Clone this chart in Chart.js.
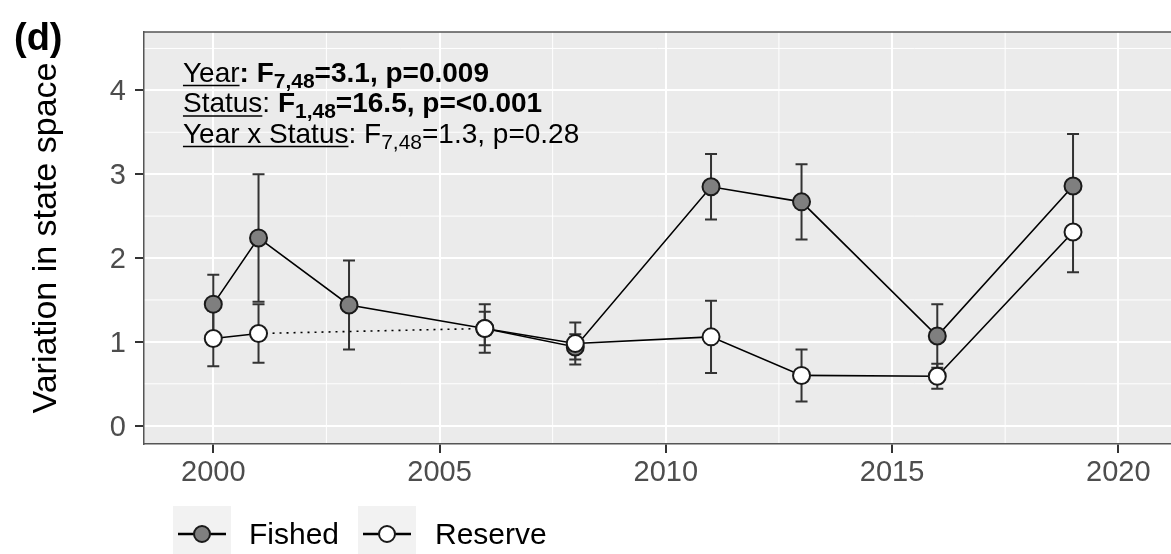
<!DOCTYPE html>
<html>
<head>
<meta charset="utf-8">
<script src="https://cdn.jsdelivr.net/npm/chart.js@4.4.0/dist/chart.umd.min.js"></script>
<style>
  html, body { margin: 0; padding: 0; background: #ffffff; }
  canvas { display: block; }
</style>
</head>
<body>
<canvas id="chart" width="1171" height="554"></canvas>
<script>
// Survey years and per-status mean variation in state space (± error)
const years = [2000, 2001, 2003, 2006, 2008, 2011, 2013, 2016, 2019];
const fishedMean = [1.45, 2.24, 1.44, 1.16, 0.94, 2.85, 2.67, 1.07, 2.86];
const fishedErr  = [0.35, 0.76, 0.53, 0.20, 0.15, 0.39, 0.45, 0.38, 0.62];
const reserveMean = [1.04, 1.10, null, 1.16, 0.98, 1.06, 0.60, 0.59, 2.31];
const reserveErr  = [0.33, 0.35, null, 0.29, 0.25, 0.43, 0.31, 0.15, 0.48];

const seriesNames = ['Fished', 'Reserve'];
const xTicks = [2000, 2005, 2010, 2015, 2020];
const yTicks = [0, 1, 2, 3, 4];
const xMinor = [2002.5, 2007.5, 2012.5, 2017.5];
const yMinor = [0.5, 1.5, 2.5, 3.5, 4.5];
const panelTag = '(d)';
const yTitle = 'Variation in state space';

// ANOVA summary lines (u = underlined, b = bold, sub = subscript)
const statsLines = [
  [{t: 'Year', u: true}, {t: ': F', b: true}, {t: '7,48', b: true, sub: true}, {t: '=3.1, p=0.009', b: true}],
  [{t: 'Status', u: true}, {t: ': '}, {t: 'F', b: true}, {t: '1,48', b: true, sub: true}, {t: '=16.5, p=<0.001', b: true}],
  [{t: 'Year x Status', u: true}, {t: ': F'}, {t: '7,48', sub: true}, {t: '=1.3, p=0.28'}]
];

const FONT = '"Liberation Sans", Arial, Helvetica, sans-serif';
const PANEL_BG = '#ebebeb';
const AXIS_COL = '#4d4d4d';

function toPoints(means) {
  return years.map((y, i) => ({x: y, y: means[i]}));
}

// Segments that bridge a missing survey year are drawn dotted
function dottedAcrossGap(means) {
  return ctx => (means[ctx.p0DataIndex] === null) ? [2, 5] : undefined;
}

// Panel background + minor grid, drawn beneath the library's major grid
const panelPlugin = {
  id: 'panel',
  beforeDraw(chart) {
    const {ctx, chartArea: a, scales: {x, y}} = chart;
    ctx.save();
    ctx.fillStyle = PANEL_BG;
    ctx.fillRect(a.left, a.top, a.right - a.left, a.bottom - a.top);
    ctx.beginPath();
    ctx.rect(a.left, a.top, a.right - a.left, a.bottom - a.top);
    ctx.clip();
    ctx.strokeStyle = '#ffffff';
    ctx.lineWidth = 1;
    yMinor.forEach(v => {
      const p = y.getPixelForValue(v);
      ctx.beginPath(); ctx.moveTo(a.left, p); ctx.lineTo(a.right, p); ctx.stroke();
    });
    xMinor.forEach(v => {
      const p = x.getPixelForValue(v);
      ctx.beginPath(); ctx.moveTo(p, a.top); ctx.lineTo(p, a.bottom); ctx.stroke();
    });
    ctx.restore();
  },
  afterDraw(chart) {
    const {ctx, chartArea: a} = chart;
    // top edge of the panel frame
    ctx.save();
    ctx.strokeStyle = '#555555';
    ctx.lineWidth = 1.5;
    ctx.beginPath(); ctx.moveTo(a.left, a.top); ctx.lineTo(a.right, a.top); ctx.stroke();
    // panel tag
    ctx.fillStyle = '#000000';
    ctx.font = 'bold 38px ' + FONT;
    ctx.textBaseline = 'alphabetic';
    ctx.textAlign = 'left';
    ctx.fillText(panelTag, 14, 50);
    ctx.restore();
  }
};

// Vertical error bars with caps
const errorBarPlugin = {
  id: 'errorBars',
  beforeDatasetsDraw(chart) {
    const {ctx, chartArea: a, scales: {x, y}} = chart;
    ctx.save();
    ctx.beginPath();
    ctx.rect(a.left, a.top, a.right - a.left, a.bottom - a.top);
    ctx.clip();
    ctx.strokeStyle = '#333333';
    ctx.lineWidth = 2;
    chart.data.datasets.forEach(ds => {
      ds.data.forEach((pt, i) => {
        const e = ds.errors[i];
        if (pt.y === null || e === null) return;
        const px = x.getPixelForValue(pt.x);
        const hi = y.getPixelForValue(pt.y + e);
        const lo = y.getPixelForValue(pt.y - e);
        const cap = 6;
        ctx.beginPath();
        ctx.moveTo(px, hi); ctx.lineTo(px, lo);
        ctx.moveTo(px - cap, hi); ctx.lineTo(px + cap, hi);
        ctx.moveTo(px - cap, lo); ctx.lineTo(px + cap, lo);
        ctx.stroke();
      });
    });
    ctx.restore();
  }
};

// Statistics annotation, anchored in data coordinates
const statsPlugin = {
  id: 'stats',
  afterDatasetsDraw(chart) {
    const {ctx, scales: {x, y}} = chart;
    const x0 = x.getPixelForValue(1999.33);
    const base0 = y.getPixelForValue(4.10);
    const lineGap = 30.5;
    const size = 28, subSize = 21, subDrop = 6;
    ctx.save();
    ctx.fillStyle = '#000000';
    ctx.strokeStyle = '#000000';
    ctx.textBaseline = 'alphabetic';
    ctx.textAlign = 'left';
    statsLines.forEach((segs, li) => {
      let cx = x0;
      const base = base0 + li * lineGap;
      segs.forEach(s => {
        const fs = s.sub ? subSize : size;
        ctx.font = (s.b ? 'bold ' : '') + fs + 'px ' + FONT;
        const yy = s.sub ? base + subDrop : base;
        ctx.fillText(s.t, cx, yy);
        const w = ctx.measureText(s.t).width;
        if (s.u) {
          ctx.lineWidth = 1.6;
          ctx.beginPath();
          ctx.moveTo(cx, base + 3.5); ctx.lineTo(cx + w, base + 3.5);
          ctx.stroke();
        }
        cx += w;
      });
    });
    ctx.restore();
  }
};

// Legend keys in the bottom strip (line + point on a light key background)
const legendPlugin = {
  id: 'keyLegend',
  afterDraw(chart) {
    const {ctx} = chart;
    const keys = [{left: 173, text: 249}, {left: 358, text: 435}];
    ctx.save();
    chart.data.datasets.slice().sort((a, b) => a.legendIndex - b.legendIndex).forEach((ds, i) => {
      const k = keys[i];
      const top = 506, w = 58, h = 50;
      ctx.fillStyle = '#f2f2f2';
      ctx.fillRect(k.left, top, w, h);
      const cy = 534, cx = k.left + w / 2;
      ctx.strokeStyle = '#000000';
      ctx.lineWidth = 2.5;
      ctx.beginPath(); ctx.moveTo(k.left + 5, cy); ctx.lineTo(k.left + w - 5, cy); ctx.stroke();
      ctx.beginPath(); ctx.arc(cx, cy, 8, 0, Math.PI * 2);
      ctx.fillStyle = ds.pointBackgroundColor;
      ctx.fill();
      ctx.lineWidth = 2;
      ctx.strokeStyle = ds.pointBorderColor;
      ctx.stroke();
      ctx.fillStyle = '#000000';
      ctx.font = '30px ' + FONT;
      ctx.textBaseline = 'middle';
      ctx.textAlign = 'left';
      ctx.fillText(ds.label, k.text, cy + 2);
    });
    ctx.restore();
  }
};

new Chart(document.getElementById('chart'), {
  type: 'line',
  data: {
    datasets: [
      {
        label: seriesNames[0],
        legendIndex: 0,
        data: toPoints(fishedMean),
        errors: fishedErr,
        borderColor: '#000000',
        borderWidth: 1.6,
        pointRadius: 8.5,
        pointHoverRadius: 8.5,
        pointBackgroundColor: '#7f7f7f',
        pointBorderColor: '#1a1a1a',
        pointBorderWidth: 2,
        spanGaps: true,
        order: 2,
        segment: {borderDash: dottedAcrossGap(fishedMean)}
      },
      {
        label: seriesNames[1],
        legendIndex: 1,
        data: toPoints(reserveMean),
        errors: reserveErr,
        borderColor: '#000000',
        borderWidth: 1.6,
        pointRadius: 8.5,
        pointHoverRadius: 8.5,
        pointBackgroundColor: '#ffffff',
        pointBorderColor: '#1a1a1a',
        pointBorderWidth: 2,
        spanGaps: true,
        order: 1,
        segment: {borderDash: dottedAcrossGap(reserveMean)}
      }
    ]
  },
  options: {
    responsive: false,
    animation: false,
    devicePixelRatio: 1,
    layout: {autoPadding: false, padding: {left: 0, right: 0, top: 32, bottom: 0}},
    plugins: {
      legend: {display: false},
      tooltip: {enabled: false}
    },
    scales: {
      x: {
        type: 'linear',
        min: 1998.469,
        max: 2021.165,
        afterBuildTicks: s => { s.ticks = xTicks.map(v => ({value: v})); },
        afterFit: s => { s.height = 110; s.paddingLeft = 0; s.paddingRight = 0; },
        grid: {color: '#ffffff', lineWidth: 2, drawTicks: true, tickLength: 9, tickColor: '#333333', tickWidth: 2},
        border: {display: true, color: '#555555', width: 1.5},
        ticks: {color: AXIS_COL, font: {family: FONT, size: 29}, padding: 3, maxRotation: 0,
                callback: v => String(v)}
      },
      y: {
        type: 'linear',
        min: -0.218,
        max: 4.696,
        afterBuildTicks: s => { s.ticks = yTicks.map(v => ({value: v})); },
        afterFit: s => { s.width = 144; s.paddingTop = 0; s.paddingBottom = 0; },
        grid: {color: '#ffffff', lineWidth: 2, drawTicks: true, tickLength: 9, tickColor: '#333333', tickWidth: 2},
        border: {display: true, color: '#555555', width: 1.5},
        ticks: {color: AXIS_COL, font: {family: FONT, size: 29}, padding: 9, labelOffset: 2,
                callback: v => String(v)},
        title: {display: true, text: yTitle, color: '#000000',
                font: {family: FONT, size: 34}, padding: {top: 26, bottom: 0}}
      }
    }
  },
  plugins: [panelPlugin, errorBarPlugin, statsPlugin, legendPlugin]
});
</script>
</body>
</html>
